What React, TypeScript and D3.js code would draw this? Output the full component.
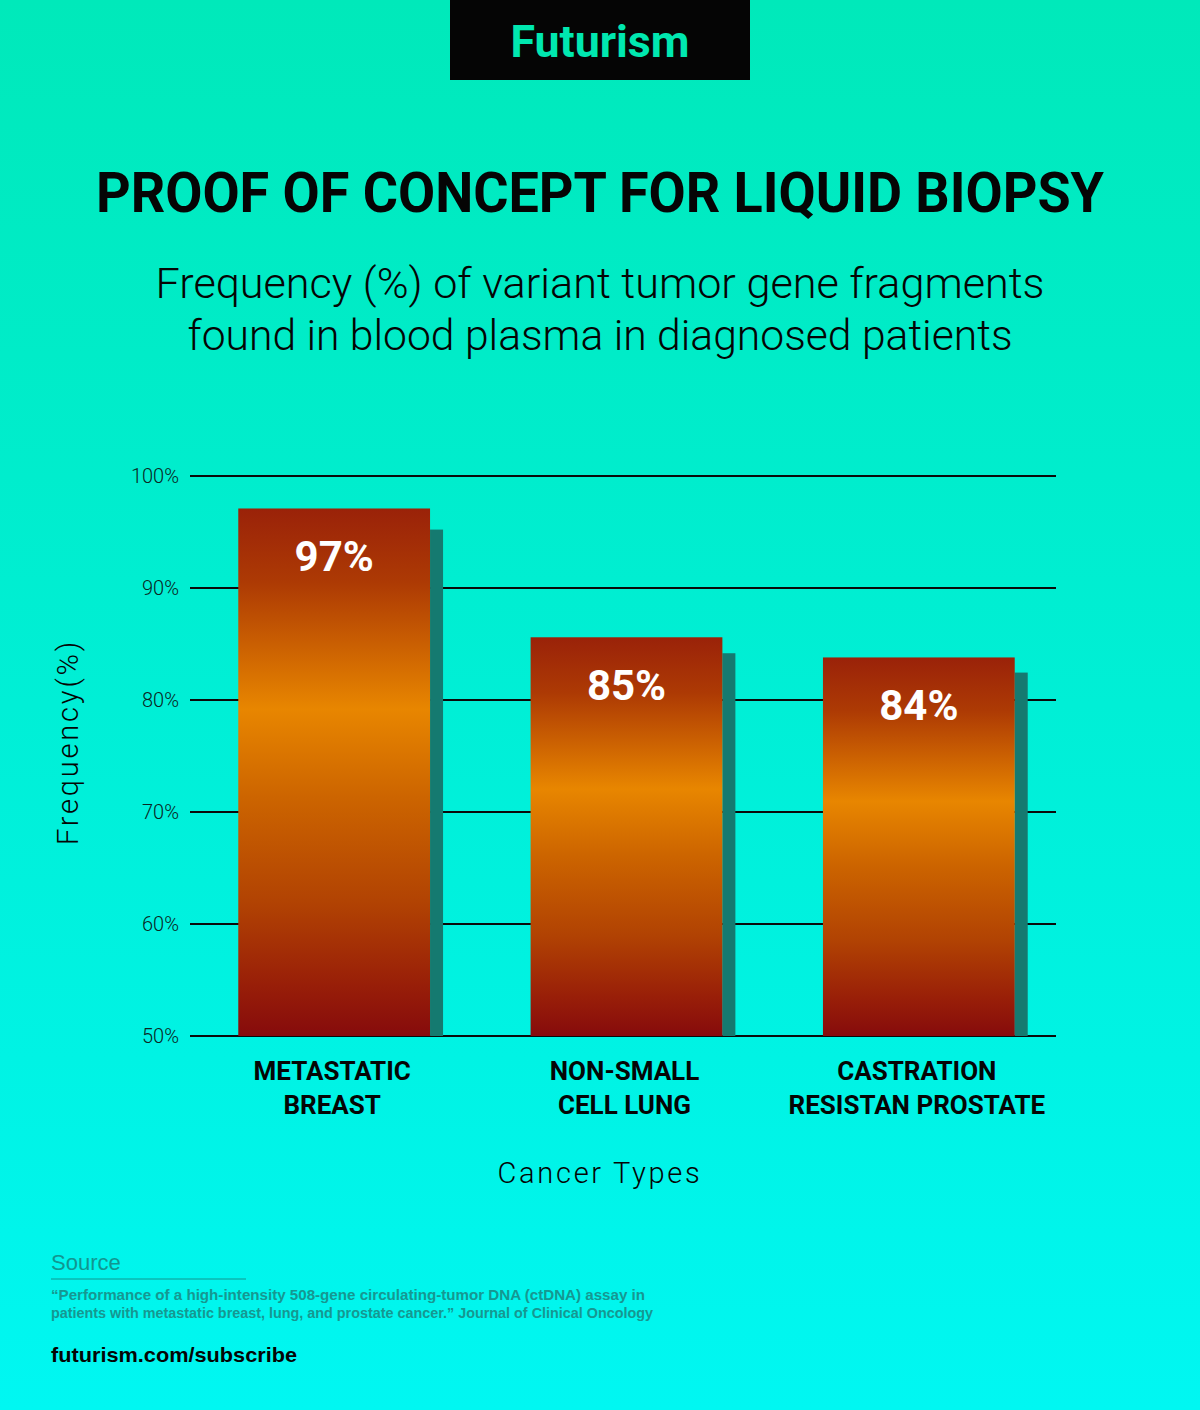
import React from "react";
import * as d3 from "d3";

const categories = ["METASTATIC BREAST", "NON-SMALL CELL LUNG", "CASTRATION RESISTAN PROSTATE"];
const categoryLines = [["METASTATIC", "BREAST"], ["NON-SMALL", "CELL LUNG"], ["CASTRATION", "RESISTAN PROSTATE"]];
const values = [97.1, 85.6, 83.8];
const valueLabels = ["97%", "85%", "84%"];
const yTicks = [50, 60, 70, 80, 90, 100];

const W = 1200;
const H = 1410;

export default function App() {
  const x = d3
    .scaleBand<string>()
    .domain(categories)
    .range([188, 1065])
    .paddingInner(0.344)
    .paddingOuter(0.172);
  const y = d3.scaleLinear().domain([50, 100]).range([1036, 476]);
  const bw = x.bandwidth();
  const shadowW = 13;
  const font = "Roboto, 'DejaVu Sans', sans-serif";
  const helv = "'Liberation Sans', Arial, sans-serif";

  return (
    <svg
      width={W}
      height={H}
      viewBox={`0 0 ${W} ${H}`}
      style={{ position: "absolute", left: 0, top: 0 }}
      xmlns="http://www.w3.org/2000/svg"
    >
      <defs>
        <linearGradient id="bg" x1="0" y1="0" x2="0" y2="1">
          <stop offset="0" stopColor="#00e9ba" />
          <stop offset="0.5" stopColor="#00efd6" />
          <stop offset="1" stopColor="#00f7f2" />
        </linearGradient>
        <linearGradient id="bar" x1="0" y1="0" x2="0" y2="1">
          <stop offset="0" stopColor="#9a2209" />
          <stop offset="0.14" stopColor="#ad3a04" />
          <stop offset="0.38" stopColor="#e88600" />
          <stop offset="0.55" stopColor="#cc6400" />
          <stop offset="0.75" stopColor="#b14203" />
          <stop offset="0.9" stopColor="#991f08" />
          <stop offset="1" stopColor="#860b0c" />
        </linearGradient>
      </defs>
      <rect x={0} y={0} width={W} height={H} fill="url(#bg)" />

      {/* Logo */}
      <rect x={450} y={0} width={300} height={80} fill="#050505" />
      <text
        x={600}
        y={57}
        textAnchor="middle"
        fontFamily={font}
        fontWeight={700}
        fontSize={44}
        fill="#00e8b0"
        textLength={179}
        lengthAdjust="spacingAndGlyphs"
      >
        Futurism
      </text>

      {/* Title */}
      <text
        x={600}
        y={212}
        textAnchor="middle"
        fontFamily={font}
        fontWeight={700}
        fontSize={56}
        fill="#050505"
        textLength={1008}
        lengthAdjust="spacingAndGlyphs"
      >
        PROOF OF CONCEPT FOR LIQUID BIOPSY
      </text>
      <text
        x={600}
        y={298}
        textAnchor="middle"
        fontFamily={font}
        fontWeight={300}
        fontSize={42}
        fill="#050505"
        textLength={889}
        lengthAdjust="spacingAndGlyphs"
      >
        Frequency (%) of variant tumor gene fragments
      </text>
      <text
        x={600}
        y={350}
        textAnchor="middle"
        fontFamily={font}
        fontWeight={300}
        fontSize={42}
        fill="#050505"
        textLength={825}
        lengthAdjust="spacingAndGlyphs"
      >
        found in blood plasma in diagnosed patients
      </text>

      {/* Grid lines */}
      {yTicks.map((t) => (
        <g key={t}>
          <line x1={190} x2={1056} y1={y(t)} y2={y(t)} stroke="#0a0a0a" strokeWidth={2} />
          <text
            x={179}
            y={y(t) + 7}
            textAnchor="end"
            fontFamily={font}
            fontWeight={300}
            fontSize={20}
            fill="#0a2522"
          >
            {t}%
          </text>
        </g>
      ))}

      {/* Bars */}
      {categories.map((c, i) => {
        const x0 = x(c) as number;
        const top = y(values[i]);
        const base = y(50);
        const h = base - top;
        const sh = h * 0.96;
        return (
          <g key={c}>
            <rect x={x0 + bw} y={base - sh} width={shadowW} height={sh} fill="#157a70" />
            <rect x={x0} y={top} width={bw} height={h} fill="url(#bar)" />
            <text
              x={x0 + bw / 2}
              y={top + 63}
              textAnchor="middle"
              fontFamily={font}
              fontWeight={700}
              fontSize={42}
              fill="#ffffff"
            >
              {valueLabels[i]}
            </text>
            {categoryLines[i].map((ln, j) => (
              <text
                key={j}
                x={x0 + bw / 2 - 2}
                y={1080 + j * 34}
                textAnchor="middle"
                fontFamily={font}
                fontWeight={700}
                fontSize={26}
                fill="#050505"
              >
                {ln}
              </text>
            ))}
          </g>
        );
      })}

      {/* Axis titles */}
      <text
        transform="translate(78,742) rotate(-90)"
        textAnchor="middle"
        fontFamily={font}
        fontWeight={300}
        fontSize={29}
        letterSpacing={2.8}
        fill="#050505"
      >
        Frequency(%)
      </text>
      <text
        x={600}
        y={1183}
        textAnchor="middle"
        fontFamily={font}
        fontWeight={300}
        fontSize={29}
        letterSpacing={2.7}
        fill="#050505"
      >
        Cancer Types
      </text>

      {/* Source */}
      <text x={51} y={1270} fontFamily={helv} fontSize={22} fill="#119690">
        Source
      </text>
      <line x1={51} x2={246} y1={1279} y2={1279} stroke="#119690" strokeWidth={1} />
      <text
        x={51}
        y={1300}
        fontFamily={helv}
        fontWeight={700}
        fontSize={14}
        fill="#169791"
        textLength={594}
        lengthAdjust="spacingAndGlyphs"
      >
        “Performance of a high-intensity 508-gene circulating-tumor DNA (ctDNA) assay in
      </text>
      <text
        x={51}
        y={1318}
        fontFamily={helv}
        fontWeight={700}
        fontSize={14}
        fill="#169791"
        textLength={602}
        lengthAdjust="spacingAndGlyphs"
      >
        patients with metastatic breast, lung, and prostate cancer.” Journal of Clinical Oncology
      </text>
      <text
        x={51}
        y={1362}
        fontFamily={helv}
        fontWeight={700}
        fontSize={21}
        fill="#050505"
        textLength={246}
        lengthAdjust="spacingAndGlyphs"
      >
        futurism.com/subscribe
      </text>
    </svg>
  );
}
